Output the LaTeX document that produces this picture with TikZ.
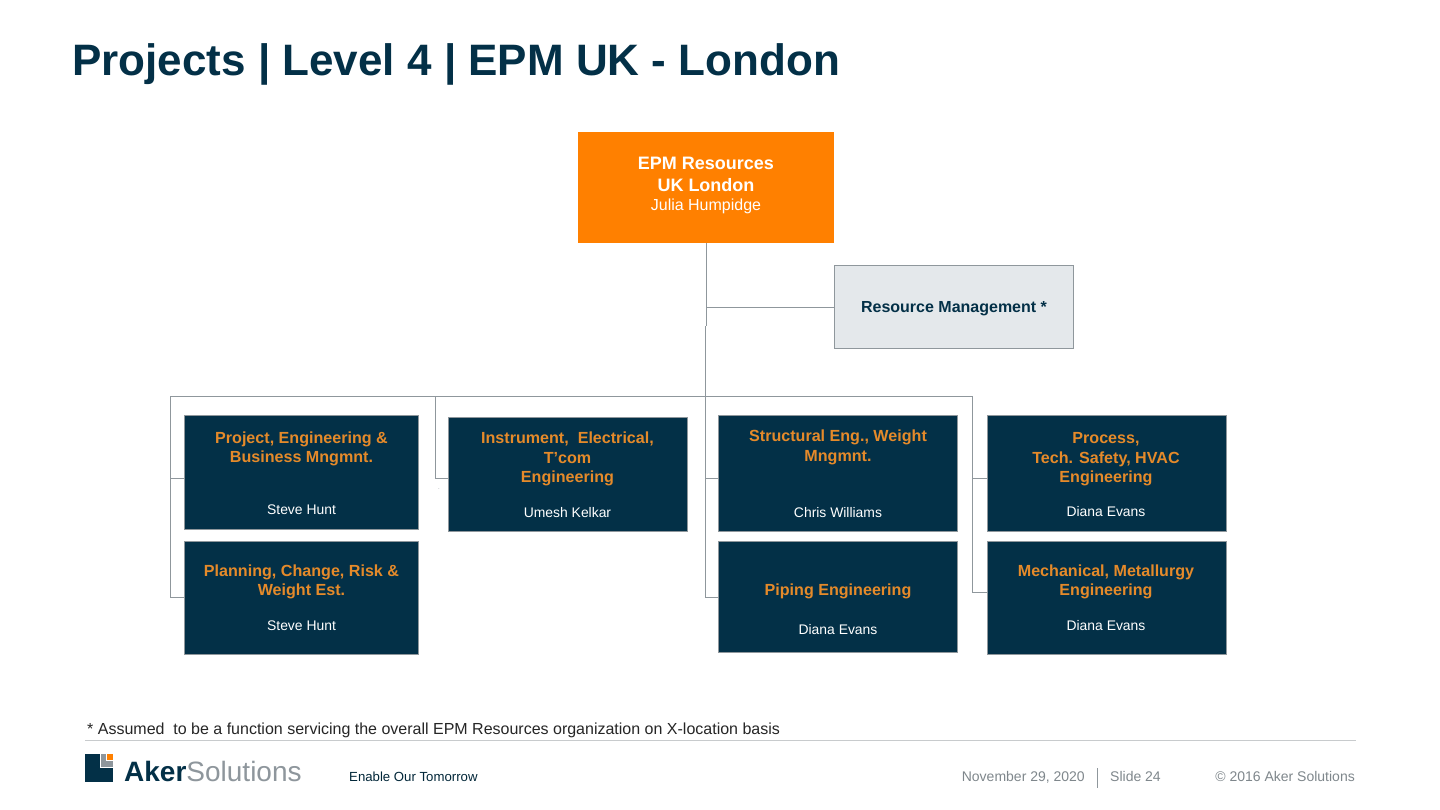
\documentclass[tikz,border=0pt]{standalone}
\usepackage{fontspec}
\setmainfont{Liberation Sans}
\definecolor{navy}{HTML}{033047}
\definecolor{orangeA}{HTML}{FF8000}
\definecolor{orangeT}{HTML}{E58A2A}
\definecolor{lineG}{HTML}{8F979C}
\definecolor{paleG}{HTML}{E4E8EB}
\definecolor{footG}{HTML}{7F878C}
\definecolor{logoG}{HTML}{8E969C}
\definecolor{ruleG}{HTML}{C8CBCD}
\tikzset{
 x=1pt,y=-1pt,
 boxn/.style={draw=lineG,line width=0.8pt,fill=navy,inner sep=0pt,outer sep=0pt},
 head/.style={text=orangeT,font=\fontsize{16.1}{19.5}\selectfont\bfseries,align=center,inner sep=0pt},
 who/.style={text=white,font=\fontsize{13.9}{16}\selectfont,inner sep=0pt},
 conn/.style={draw=lineG,line width=0.9pt},
 foot/.style={text=footG,font=\fontsize{14}{16}\selectfont,inner sep=0pt},
}
\newcommand{\dbox}[5]{\path[boxn] (#2,#3) rectangle (#4,#5) node[pos=.5,inner sep=0pt,outer sep=0pt,minimum width=#4pt-#2pt,minimum height=#5pt-#3pt] (#1) {};}
\begin{document}
\begin{tikzpicture}
\useasboundingbox (0,0) rectangle (1440,810);
\fill[white] (0,0) rectangle (1440,810);
\node[anchor=base west,inner sep=0pt,text=navy,font=\fontsize{44}{50}\selectfont\bfseries] (title) at (72,76) {Projects | Level 4 | EPM UK - London};
% top boxes
\node[fill=orangeA,minimum width=256pt,minimum height=111pt,inner sep=0pt,outer sep=0pt] (top) at (706,187.5) {};
\node[text=white,font=\fontsize{18}{22}\selectfont\bfseries,align=center,inner sep=0pt] (topt) at (706,174.5) {EPM Resources\\UK London};
\node[text=white,font=\fontsize{16}{17}\selectfont,inner sep=0pt] (topn) at (706,206) {Julia Humpidge};
\node[draw=lineG,line width=0.9pt,fill=paleG,minimum width=239pt,minimum height=83pt,inner sep=0pt,outer sep=0pt] (rm) at (954,306.5) {};
\node[text=navy,font=\fontsize{16}{19}\selectfont\bfseries,inner sep=0pt] (rmt) at (954,309) {Resource Management *};
% dark boxes
\dbox{a}{184}{415}{418}{529}
\dbox{b}{184}{541}{418}{654}
\dbox{c}{448}{417}{687}{531}
\dbox{d}{718}{415}{957}{531}
\dbox{e}{718}{541}{957}{652}
\dbox{f}{987}{415}{1226}{531}
\dbox{g}{987}{541}{1226}{654}
% junction coordinates
\coordinate (j0) at (706,307);
\coordinate (j1) at (706,326);
\coordinate (j2) at (705,326);
\coordinate (j3) at (705,396);
\coordinate (hl) at (170,396);
\coordinate (hm) at (435,396);
\coordinate (hr) at (972,396);
\coordinate (la) at (170,478);
\coordinate (lb) at (170,597);
\coordinate (ma) at (435,478);
\coordinate (da) at (705,478);
\coordinate (db) at (705,597);
\coordinate (ra) at (972,478);
\coordinate (rb) at (972,592);
\draw[conn] (top.south -| j0) -- (j1);
\draw[conn] (j0) -- (rm.west |- j0);
\draw[conn] (j2) -- (j3);
\draw[conn] (hl) -- (hr);
\draw[conn] (hl) -- (lb) -- (b.west |- lb);
\draw[conn] (la) -- (a.west |- la);
\draw[conn] (hm) -- (ma) -- (c.west |- ma);
\draw[conn] (j3) -- (db) -- (e.west |- db);
\draw[conn] (da) -- (d.west |- da);
\draw[conn] (hr) -- (rb) -- (g.west |- rb);
\draw[conn] (ra) -- (f.west |- ra);
% texts
\node[head] (at) at (301.5,449) {Project, Engineering \&\\Business Mngmnt.};
\node[who] (an) at (301.5,509.5) {Steve Hunt};
\node[head] (bt) at (301.5,582) {Planning, Change, Risk \&\\Weight Est.};
\node[who] (bn) at (301.5,625.5) {Steve Hunt};
\node[head] (ct) at (567.5,459) {Instrument,\ \ Electrical,\\T’com\\Engineering};
\node[who] (cn) at (567.5,512.5) {Umesh Kelkar};
\node[head] (dt) at (838,447.5) {Structural Eng., Weight\\Mngmnt.};
\node[who] (dn) at (838,512.5) {Chris Williams};
\node[head] (et) at (838,591) {Piping Engineering};
\node[who] (en) at (838,629.5) {Diana Evans};
\node[head] (ft) at (1106,459.5) {Process,\\Tech. Safety, HVAC\\Engineering};
\node[who] (fn) at (1106,511.5) {Diana Evans};
\node[head] (gt) at (1106,582) {Mechanical, Metallurgy\\Engineering};
\node[who] (gn) at (1106,625.5) {Diana Evans};
\node[text=lineG,font=\fontsize{6}{7}\selectfont,inner sep=0pt] (dot) at (439,489) {.};
% footer
\node[anchor=base west,inner sep=0pt,text=black!85,font=\fontsize{16}{18}\selectfont] (note) at (87,734.5) {*\ Assumed\ \ to be a function servicing the overall EPM Resources organization on X-location basis};
\coordinate (r1) at (85,740.5);
\coordinate (r2) at (1356,740.5);
\draw[ruleG,line width=0.9pt] (r1) -- (r2);
% logo
\fill[navy] (85,754) rectangle (113,782);
\fill[white] (100,754) rectangle (113,768);
\fill[logoG] (101,754) rectangle (113,766.5);
\fill[white] (106,754) rectangle (113,760.5);
\fill[orangeA] (107,754) rectangle (113,760);
\node[anchor=base west,inner sep=0pt,font=\fontsize{28}{32}\selectfont] (logo) at (124,781.5) {\textcolor{navy}{\textbf{Aker}}\textcolor{logoG}{Solutions}};
\node[foot,anchor=base west,text=navy!80!black,font=\fontsize{13.2}{15}\selectfont] (tag) at (349,781.5) {Enable Our Tomorrow};
\node[foot,anchor=base east] (date) at (1085,781.5) {November 29, 2020};
\coordinate (s1) at (1097,768);
\coordinate (s2) at (1097,788);
\draw[lineG,line width=0.7pt] (s1) -- (s2);
\node[foot,anchor=base west] (slide) at (1110,781.5) {Slide 24};
\node[foot,anchor=base east] (copy) at (1355,781.5) {© 2016 Aker Solutions};
\end{tikzpicture}
\end{document}
